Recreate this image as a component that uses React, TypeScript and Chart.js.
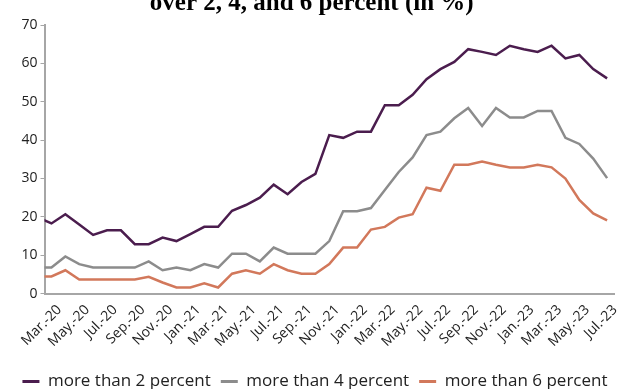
import React, { useEffect, useRef } from "react";
import { Chart, registerables } from "chart.js";

Chart.register(...registerables);

const months = [
  "Feb.-20",
  "Mar.-20", "Apr.-20", "May.-20", "Jun.-20", "Jul.-20", "Aug.-20", "Sep.-20", "Oct.-20", "Nov.-20", "Dec.-20",
  "Jan.-21", "Feb.-21", "Mar.-21", "Apr.-21", "May.-21", "Jun.-21", "Jul.-21", "Aug.-21", "Sep.-21", "Oct.-21", "Nov.-21", "Dec.-21",
  "Jan.-22", "Feb.-22", "Mar.-22", "Apr.-22", "May.-22", "Jun.-22", "Jul.-22", "Aug.-22", "Sep.-22", "Oct.-22", "Nov.-22", "Dec.-22",
  "Jan.-23", "Feb.-23", "Mar.-23", "Apr.-23", "May.-23", "Jun.-23", "Jul.-23",
];

const over2 = [
  19.9,
  18.3, 20.7, 18.0, 15.3, 16.5, 16.5, 12.9, 12.9, 14.6, 13.7,
  15.5, 17.4, 17.4, 21.6, 23.1, 25.0, 28.4, 25.9, 29.1, 31.2, 41.3, 40.6,
  42.2, 42.2, 49.1, 49.1, 51.8, 55.9, 58.5, 60.4, 63.7, 63.0, 62.2, 64.6,
  63.7, 63.0, 64.6, 61.3, 62.2, 58.5, 56.1,
];

const over4 = [
  6.8,
  6.8, 9.7, 7.7, 6.8, 6.8, 6.8, 6.8, 8.4, 6.1, 6.8,
  6.1, 7.7, 6.8, 10.4, 10.4, 8.4, 12.0, 10.4, 10.4, 10.4, 13.7, 21.5,
  21.5, 22.3, 27.0, 31.7, 35.5, 41.3, 42.2, 45.7, 48.4, 43.7, 48.4, 45.9,
  45.9, 47.6, 47.6, 40.6, 39.0, 35.2, 30.1,
];

const over6 = [
  4.5,
  4.5, 6.1, 3.7, 3.7, 3.7, 3.7, 3.7, 4.4, 2.9, 1.6,
  1.6, 2.7, 1.6, 5.2, 6.1, 5.2, 7.7, 6.1, 5.2, 5.2, 7.7, 12.0,
  12.0, 16.7, 17.4, 19.8, 20.7, 27.6, 26.8, 33.6, 33.6, 34.4, 33.6, 32.9,
  32.9, 33.6, 32.9, 30.0, 24.4, 20.9, 19.1,
];

const seriesNames = ["more than 2 percent", "more than 4 percent", "more than 6 percent"];
const seriesColors = ["#4b1d4e", "#8c8c8c", "#d2785b"];
const titleText = "over 2, 4, and 6 percent (in %)";

export default function App() {
  const ref = useRef<HTMLCanvasElement>(null);

  useEffect(() => {
    if (!ref.current) return;
    const values = [over2, over4, over6];
    const chart = new Chart(ref.current, {
      type: "line",
      data: {
        labels: months,
        datasets: values.map((v, i) => ({
          label: seriesNames[i],
          data: v,
          borderColor: seriesColors[i],
          backgroundColor: seriesColors[i],
          borderWidth: 2.5,
          pointRadius: 0,
          tension: 0,
          clip: 0,
        })),
      },
      options: {
        animation: false,
        responsive: true,
        maintainAspectRatio: false,
        layout: { padding: { left: 6, right: 1.5, top: 0, bottom: 0 } },
        plugins: {
          title: {
            display: true,
            text: titleText,
            color: "#000",
            font: { family: "'Liberation Serif', serif", size: 25, weight: "bold" },
            padding: { top: 0, bottom: 6 },
          },
          legend: {
            position: "bottom",
            align: "end",
            labels: {
              color: "#222",
              font: { family: "'Open Sans', sans-serif", size: 17 },
              boxWidth: 17,
              boxHeight: 3,
              padding: 10,
              generateLabels: (c: any) =>
                (Chart.defaults.plugins.legend.labels as any)
                  .generateLabels(c)
                  .map((l: any) => ({ ...l, lineWidth: 0, fillStyle: l.strokeStyle })),
            },
          },
          tooltip: { enabled: false },
        },
        scales: {
          x: {
            type: "category",
            min: "Mar.-20",
            offset: true,
            grid: { display: false },
            border: { display: true, color: "#a6a6a6", width: 2 },
            afterFit: (s: any) => {
              s.height += 13;
            },
            ticks: {
              autoSkip: false,
              maxRotation: 45,
              minRotation: 45,
              labelOffset: 8,
              color: "#222",
              font: { family: "'Open Sans', sans-serif", size: 14 },
              padding: 0,
              callback: function (this: any, value: any) {
                const idx = Number(value);
                return (idx - 1) % 2 === 0 ? this.getLabelForValue(idx) : null;
              },
            },
          },
          y: {
            min: 0,
            max: 70,
            grid: { display: true, drawOnChartArea: false, tickLength: 4, color: "#a6a6a6" },
            border: { display: true, color: "#a6a6a6", width: 2 },
            afterFit: (s: any) => {
              s.width += 12.5;
            },
            ticks: {
              stepSize: 10,
              color: "#222",
              padding: 3,
              font: { family: "'Open Sans', sans-serif", size: 14 },
            },
          },
        },
      },
    });
    return () => chart.destroy();
  }, []);

  return (
    <div style={{ position: "fixed", left: 0, top: 0, width: 619, height: 389, overflow: "hidden" }}>
      <div style={{ position: "absolute", left: 0, top: -11, width: 619, height: 411 }}>
        <canvas ref={ref} />
      </div>
    </div>
  );
}
